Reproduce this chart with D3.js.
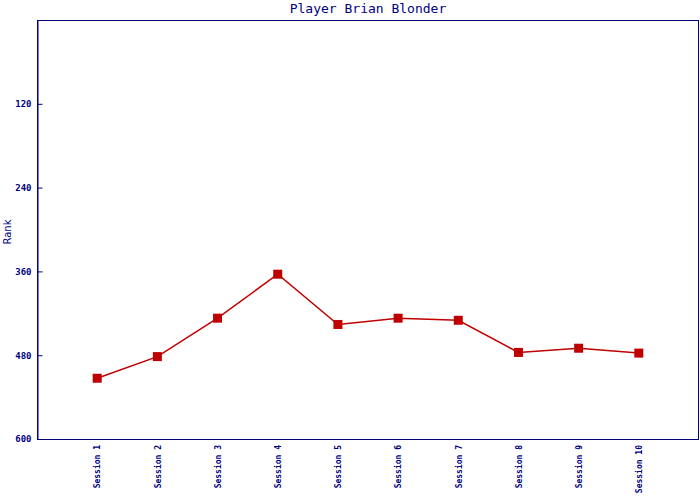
<!DOCTYPE html>
<html><head><meta charset="utf-8">
<script src="https://cdn.jsdelivr.net/npm/d3@7"></script>
<style>body{margin:0;background:#fff}svg{display:block}</style>
</head><body>
<svg id="c" width="700" height="500"></svg>
<script>
const title = "Player Brian Blonder";
const yLabel = "Rank";
const sessions = ["Session 1","Session 2","Session 3","Session 4","Session 5","Session 6","Session 7","Session 8","Session 9","Session 10"];
const ranks = [513, 482, 427, 364, 436, 427, 430, 476, 470, 477];
const yTicks = [120, 240, 360, 480, 600];

const W = 700, H = 500;
const m = {l: 37, r: 1, t: 20, b: 61};
const navy = "#000080", red = "#c00000";
const font = "DejaVu Sans Mono, monospace";
const svg = d3.select("#c");

const x = d3.scalePoint().domain(sessions).range([m.l, W - m.r]).padding(1);
const y = d3.scaleLinear().domain([0, 600]).range([m.t, H - m.b]);

svg.append("rect").attr("x", m.l + 0.5).attr("y", m.t + 0.5)
  .attr("width", W - m.r - m.l - 1).attr("height", H - m.b - m.t)
  .attr("fill", "none").attr("stroke", navy).attr("stroke-width", 1);

const ya = svg.append("g").attr("transform", `translate(${m.l + 0.5},0)`)
  .call(d3.axisLeft(y).tickValues(yTicks).tickSizeInner(-5).tickSizeOuter(0).tickPadding(6));
ya.select(".domain").attr("stroke", navy);
ya.selectAll(".tick line").attr("stroke", navy);
ya.selectAll(".tick text").attr("fill", navy).attr("font-family", font)
  .attr("font-size", 9).attr("font-weight", "bold");

const xa = svg.append("g").attr("transform", `translate(0,${H - m.b})`)
  .call(d3.axisBottom(x).tickSize(0).tickPadding(0));
xa.select(".domain").remove();
xa.selectAll(".tick text").attr("fill", navy).attr("font-family", font)
  .attr("font-size", 8).attr("font-weight", "bold")
  .attr("transform", "rotate(-90)").attr("text-anchor", "end")
  .attr("x", -6).attr("y", 0).attr("dy", "0.35em");

svg.append("text").attr("x", (m.l + W - m.r) / 2 + 0).attr("y", 13)
  .attr("text-anchor", "middle").attr("fill", navy).attr("font-family", font)
  .attr("font-size", 13).text(title);

svg.append("text").attr("transform", `translate(11,232) rotate(-90)`)
  .attr("text-anchor", "middle").attr("fill", navy)
  .attr("font-family", "DejaVu Sans, sans-serif").attr("font-size", 10).text(yLabel);

const line = d3.line().x((d, i) => x(sessions[i])).y(d => y(d));
svg.append("path").datum(ranks).attr("d", line)
  .attr("fill", "none").attr("stroke", red).attr("stroke-width", 1.5);

svg.selectAll(".pt").data(ranks).join("rect").attr("class", "pt")
  .attr("x", (d, i) => x(sessions[i]) - 4.5).attr("y", d => y(d) - 4.5)
  .attr("width", 9).attr("height", 9).attr("fill", red);
</script>
</body></html>
